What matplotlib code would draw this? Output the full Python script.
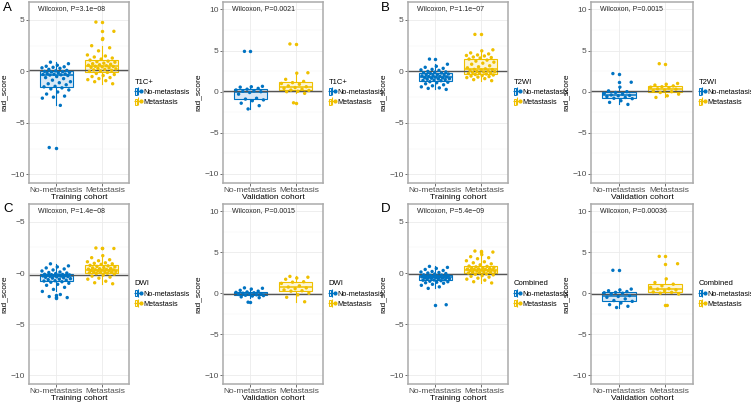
import numpy as np
import matplotlib
matplotlib.use("Agg")
import matplotlib.pyplot as plt
from matplotlib.patches import Patch
from matplotlib.lines import Line2D
from matplotlib.legend_handler import HandlerTuple
from matplotlib.transforms import ScaledTranslation

plt.rcParams['font.family'] = ['Liberation Sans', 'DejaVu Sans']

# groups on the x axis
groups = ["No-metastasis", "Metastasis"]
models = ["T1C+", "T2WI", "DWI", "Combined"]
letters = ["A", "B", "C", "D"]
cohorts = ["Training cohort", "Validation cohort"]

# rad_score values
t1c_train_nomet = [0.9, 0.75, 0.6, 0.5, 0.45, 0.4, 0.35, 0.3, 0.2, 0.1, 0.05,
                   0.0, -0.02, -0.05, -0.1, -0.15, -0.2, -0.25, -0.28, -0.3, -0.33, -0.35,
                   -0.4, -0.5, -0.6, -0.7, -0.85, -1.0, -1.1, -1.2, -1.3, -1.45,
                   -1.5, -1.6, -1.7, -1.8, -2.0, -2.2, -2.4, -2.5, -2.6, -3.3, -7.4]
t1c_train_met = [4.8, 3.9, 3.2, 2.5, 2.3, 2.0, 1.6, 1.5, 1.4, 1.3, 1.2,
                 1.1, 1.0, 0.95, 0.9, 0.8, 0.75, 0.7, 0.65, 0.6, 0.55, 0.5, 0.48,
                 0.45, 0.4, 0.35, 0.3, 0.25, 0.2, 0.15, 0.1, 0.05, 0.0,
                 -0.1, -0.2, -0.3, -0.4, -0.5, -0.6, -0.7, -0.8, -0.9, -1.0, -1.2]
t1c_val_nomet = [4.9, 0.65, 0.6, 0.55, 0.4, 0.3, 0.2, 0.1, 0.05, 0.0, -0.1, -0.3,
                 -0.8, -0.9, -1.0, -1.1, -1.4, -1.7, -2.1]
t1c_val_met = [5.8, 2.3, 2.25, 1.5, 1.25, 1.1, 1.0, 0.9, 0.7, 0.6, 0.5, 0.4, 0.3,
               0.2, 0.15, 0.05, 0.0, -0.2, -1.35]

t2wi_train_nomet = [1.2, 0.7, 0.5, 0.4, 0.3, 0.2, 0.15, 0.1, 0.0, -0.05, -0.08,
                    -0.12, -0.15, -0.2, -0.25, -0.3, -0.33, -0.36, -0.4, -0.43, -0.47, -0.5,
                    -0.53, -0.56, -0.6, -0.63, -0.66, -0.7, -0.73, -0.76, -0.8, -0.83,
                    -0.88, -0.9, -1.0, -1.05, -1.1, -1.2, -1.3, -1.4, -1.5, -1.6, -1.65, -1.75]
t2wi_train_met = [3.6, 2.1, 2.0, 1.8, 1.7, 1.6, 1.55, 1.5, 1.4, 1.35, 1.3,
                  1.2, 1.1, 1.0, 0.9, 0.8, 0.7, 0.55, 0.45, 0.35, 0.25, 0.2, 0.18,
                  0.15, 0.1, 0.05, 0.0, -0.03, -0.06, -0.1, -0.13, -0.17, -0.2,
                  -0.25, -0.3, -0.35, -0.4, -0.45, -0.5, -0.55, -0.6, -0.7, -0.8, -0.9]
t2wi_val_nomet = [2.2, 1.15, 0.55, 0.1, 0.0, -0.1, -0.2, -0.3, -0.4, -0.45, -0.5,
                  -0.6, -0.7, -0.8, -0.85, -1.1, -1.3, -1.55]
t2wi_val_met = [3.4, 1.0, 0.9, 0.8, 0.7, 0.6, 0.55, 0.45, 0.35, 0.3, 0.2, 0.1, 0.0,
                -0.1, -0.3, -0.5, -0.7]

dwi_train_nomet = [0.9, 0.7, 0.6, 0.5, 0.4, 0.3, 0.2, 0.1, 0.05, 0.0, -0.05,
                   -0.12, -0.14, -0.16, -0.18, -0.2, -0.22, -0.24, -0.26, -0.28, -0.3, -0.32, -0.34,
                   -0.38, -0.42, -0.46, -0.5, -0.55, -0.6, -0.65, -0.7, -0.75, -0.78,
                   -0.85, -0.9, -1.0, -1.1, -1.2, -1.4, -1.6, -1.8, -2.1, -2.3, -2.4]
dwi_train_met = [2.45, 2.4, 1.7, 1.5, 1.3, 1.2, 1.1, 1.0, 0.95, 0.9, 0.85,
                 0.75, 0.7, 0.65, 0.6, 0.55, 0.5, 0.45, 0.42, 0.38, 0.35, 0.32, 0.3,
                 0.28, 0.25, 0.22, 0.2, 0.17, 0.14, 0.11, 0.08, 0.05, 0.02,
                 -0.02, -0.05, -0.1, -0.2, -0.3, -0.4, -0.5, -0.6, -0.8, -0.95, -1.05]
dwi_val_nomet = [0.65, 0.6, 0.5, 0.35, 0.25, 0.15, 0.1, 0.05, 0.0, -0.05, -0.1, -0.15,
                 -0.2, -0.25, -0.3, -0.35, -0.45, -0.55, -1.1]
dwi_val_met = [2.05, 1.95, 1.85, 1.7, 1.4, 1.35, 1.2, 0.9, 0.75, 0.65, 0.55, 0.4, 0.3,
               0.25, 0.0, -0.2, -0.5, -1.05]

comb_train_nomet = [0.65, 0.55, 0.45, 0.35, 0.25, 0.15, 0.1, 0.05, 0.0, -0.05, -0.1,
                    -0.18, -0.2, -0.23, -0.26, -0.29, -0.31, -0.33, -0.35, -0.37, -0.4, -0.42, -0.43,
                    -0.45, -0.48, -0.5, -0.53, -0.56, -0.59, -0.62, -0.65, -0.68, -0.7,
                    -0.75, -0.8, -0.85, -0.9, -0.95, -1.0, -1.1, -1.2, -1.35, -1.5, -3.1]
comb_train_met = [2.15, 2.05, 1.8, 1.6, 1.5, 1.4, 1.2, 1.1, 1.0, 0.9, 0.8,
                  0.68, 0.65, 0.6, 0.55, 0.5, 0.47, 0.44, 0.41, 0.38, 0.35, 0.33, 0.31,
                  0.28, 0.25, 0.22, 0.19, 0.16, 0.13, 0.1, 0.07, 0.03, 0.0,
                  -0.08, -0.12, -0.18, -0.25, -0.32, -0.4, -0.5, -0.6, -0.7, -0.85, -0.97]
comb_val_nomet = [2.8, 0.5, 0.4, 0.3, 0.2, 0.1, 0.05, 0.0, -0.1, -0.3, -0.4, -0.5,
                  -0.7, -0.9, -1.0, -1.2, -1.4, -1.6, -1.75]
comb_val_met = [4.5, 3.6, 1.75, 1.3, 1.1, 0.9, 0.7, 0.55, 0.5, 0.4, 0.3, 0.15, 0.1,
                0.0, -0.1, -1.5]

train_data = [(t1c_train_nomet, t1c_train_met), (t2wi_train_nomet, t2wi_train_met),
              (dwi_train_nomet, dwi_train_met), (comb_train_nomet, comb_train_met)]
val_data = [(t1c_val_nomet, t1c_val_met), (t2wi_val_nomet, t2wi_val_met),
            (dwi_val_nomet, dwi_val_met), (comb_val_nomet, comb_val_met)]

train_p = ["Wilcoxon, P=3.1e\u221208", "Wilcoxon, P=1.1e\u221207",
           "Wilcoxon, P=1.4e\u221208", "Wilcoxon, P=5.4e\u221209"]
val_p = ["Wilcoxon, P=0.0021", "Wilcoxon, P=0.0015",
         "Wilcoxon, P=0.0015", "Wilcoxon, P=0.00036"]

# reference line for each model (train, validation)
cutoffs = [(0.15, 0.1), (0.08, 0.04), (-0.18, -0.08), (-0.12, -0.15)]

colors = ["#0073C2", "#EFC000"]
fills = ["#D9E8F5", "#FCF5D6"]

W, H = 751, 407
fig = plt.figure(figsize=(W / 100, H / 100), dpi=100)


def px_axes(left, right, top, bottom):
    return fig.add_axes([left / W, 1 - bottom / H, (right - left) / W, (bottom - top) / H])


def panel(ax, data, ptxt, cut, ylim, majors, minors, xlabel, legtitle):
    bp = ax.boxplot(list(data), positions=[1, 2], widths=0.73, patch_artist=True,
                    whis=1.5, zorder=2)
    for i in range(2):
        c = colors[i]
        bp['boxes'][i].set(facecolor=fills[i], edgecolor=c, linewidth=0.8)
        bp['medians'][i].set(color=c, linewidth=1.1)
        for w in bp['whiskers'][2 * i:2 * i + 2]:
            w.set(color=c, linewidth=0.8)
        for cp in bp['caps'][2 * i:2 * i + 2]:
            cp.set(visible=False)
        bp['fliers'][i].set(marker='o', markerfacecolor=c, markeredgecolor='none',
                            markersize=2.5)
        # jittered points, fixed spread pattern
        vals = np.asarray(data[i])
        k = np.arange(len(vals))
        off = ((k * 0.6180339887 + 0.3) % 1.0 - 0.5) * 0.64
        ax.scatter(np.full(len(vals), i + 1) + off, vals, s=6, color=c,
                   edgecolors='none', zorder=3)
    ax.axhline(cut, color='#555555', lw=1.0, zorder=2.5)
    ax.set_xlim(0.4, 2.6)
    ax.set_ylim(*ylim)
    ax.set_yticks(majors)
    ax.set_yticks(minors, minor=True)
    ax.set_xticks([1, 2])
    ax.set_xticklabels(groups)
    ax.grid(which='major', color='#EBEBEB', lw=0.6, zorder=0)
    ax.grid(which='minor', axis='y', color='#F3F3F3', lw=0.35, zorder=0)
    ax.set_axisbelow(True)
    ax.tick_params(which='major', length=2, width=0.6, color='#555555',
                   labelsize=6, labelcolor='#4D4D4D', pad=1)
    ax.tick_params(which='minor', length=0)
    for s in ax.spines.values():
        s.set_color('#ABABAB')
        s.set_linewidth(1.1)
    ax.set_xlabel(xlabel, fontsize=6, labelpad=0)
    ax.set_ylabel("rad_score", fontsize=6, labelpad=2)
    ax.text(0.09, 0.962, ptxt, transform=ax.transAxes, fontsize=5, va='center',
            ha='left', color='#222222')
    handles = []
    for i in range(2):
        handles.append((Patch(facecolor=fills[i], edgecolor=colors[i], linewidth=0.7),
                        Line2D([], [], color=colors[i], marker='+', markersize=6,
                               linestyle='none', markeredgewidth=0.8),
                        Line2D([], [], color=colors[i], marker='o', markersize=2,
                               linestyle='none')))
    ax.legend(handles, groups, title=legtitle, loc='center left',
              bbox_to_anchor=(1.0, 0.5), frameon=False, fontsize=5.2,
              title_fontsize=5.5, handlelength=1.0, handleheight=1.0,
              handletextpad=0.2, labelspacing=0.35, borderaxespad=0.4,
              alignment='left',
              handler_map={tuple: HandlerTuple(ndivide=None, pad=0)})
    # the second group label sits a little to the right, as in the reference
    lab = ax.get_xticklabels()[1]
    lab.set_transform(lab.get_transform() + ScaledTranslation(4 / 100, 0, fig.dpi_scale_trans))
    return ax


rows = [(2, 183), (204, 384)]
pairs = [((29, 129), (223, 323)), ((408, 508), (591, 693))]
letter_pos = [(3, 8), (381, 8), (3, 209), (381, 209)]

for m in range(4):
    top, bottom = rows[m // 2]
    (tl, tr), (vl, vr) = pairs[m % 2]
    ax1 = px_axes(tl, tr, top, bottom)
    panel(ax1, train_data[m], train_p[m], cutoffs[m][0], (-10.85, 6.75),
          [-10, -5, 0, 5], [-7.5, -2.5, 2.5], cohorts[0], models[m])
    if m == 2:
        # the reference shows these labels with a leading dash
        ax1.set_yticklabels(["\u221210", "\u22125", "\u22120", "\u22125"])
        ax1.tick_params(axis='y', which='major', length=0, pad=3)
    ax2 = px_axes(vl, vr, top, bottom)
    panel(ax2, val_data[m], val_p[m], cutoffs[m][1], (-11.1, 10.9),
          [-10, -5, 0, 5, 10], [-7.5, -2.5, 2.5, 7.5], cohorts[1], models[m])
    lx, ly = letter_pos[m]
    fig.text(lx / W, 1 - ly / H, letters[m], fontsize=9.5, va='center', ha='left')

fig.savefig("out.png", dpi=100)
